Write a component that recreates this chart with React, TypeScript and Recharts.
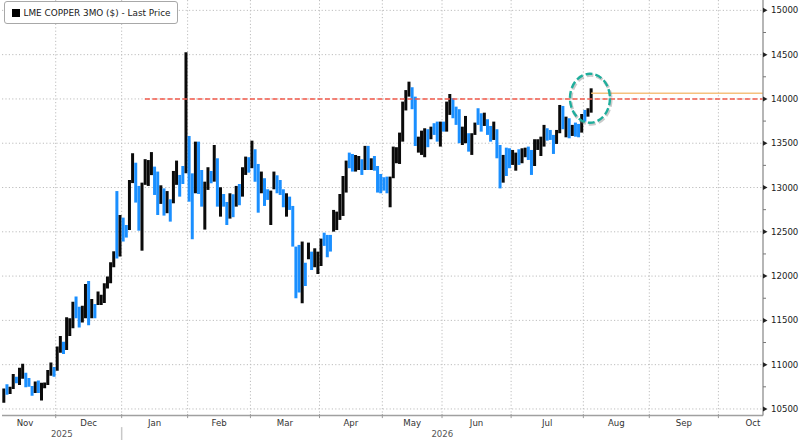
import React from 'react';
import {
  ComposedChart,
  Bar,
  Cell,
  XAxis,
  YAxis,
  CartesianGrid,
  ReferenceLine,
  ReferenceDot,
  Legend,
} from 'recharts';

// ---- data ----
const highs = [
  10730, 10780, 10750, 10895, 10865, 10965, 11010, 10910, 10850, 10760,
  10810, 10820, 10795, 10800, 10940, 11025, 10975, 11205, 11325, 11260,
  11535, 11525, 11710, 11770, 11655, 11665, 11910, 11945, 11740, 11685,
  11825, 11790, 11920, 11995, 12155, 12280, 12960, 12690, 12660, 12577,
  13085, 13387, 13280, 13018, 13055, 13320, 13310, 13400, 13236, 13180,
  13025, 12990, 12960, 12867, 13187, 13304, 13142, 13243, 14527, 13582,
  13160, 13518, 13518, 13198, 13066, 13229, 13187, 13480, 13330, 13003,
  12927, 12837, 12935, 12924, 13018, 13040, 13229, 13349, 13342, 13529,
  13432, 13266, 13180, 13105, 12980, 12965, 13180, 13138, 13085, 12980,
  12935, 12897, 12792, 12333, 12352, 12390, 12152, 12378, 12276, 12314,
  12276, 12423, 12490, 12465, 12465, 12747, 12728, 12927, 13130, 13304,
  13394, 13379, 13367, 13356, 13319, 13470, 13470, 13330, 13356, 13243,
  13153, 13116, 13123, 13123, 13462, 13455, 13620, 13970, 14100, 14195,
  14132, 14026, 13574, 13642, 13669, 13658, 13687, 13726, 13744, 13744,
  13744, 13970, 14056, 14008, 13913, 13884, 13687, 13808, 13613, 13613,
  13733, 13895, 13838, 13845, 13771, 13695, 13744, 13658, 13480, 13368,
  13450, 13443, 13424, 13394, 13432, 13443, 13450, 13462, 13424, 13545,
  13545, 13574, 13707, 13669, 13650, 13594, 13650, 13932, 13921, 13800,
  13782, 13707, 13733, 13718, 13830, 13876, 13895, 14120,
];
const lows = [
  10570, 10660, 10670, 10725, 10790, 10770, 10840, 10745, 10750, 10650,
  10680, 10680, 10595, 10735, 10770, 10875, 10865, 10930, 11135, 11120,
  11165, 11325, 11410, 11525, 11420, 11475, 11525, 11445, 11525, 11525,
  11675, 11675, 11695, 11860, 11920, 12100, 12200, 12220, 12390, 12435,
  12520, 13050, 12830, 12513, 12287, 13030, 13018, 13140, 12916, 12690,
  12815, 12683, 12710, 12615, 12822, 13030, 12897, 13040, 13161, 12840,
  12416, 12935, 12927, 12784, 12525, 12973, 13048, 13066, 12784, 12671,
  12784, 12577, 12649, 12665, 12784, 12800, 12897, 13142, 13168, 13218,
  13066, 12716, 12935, 12792, 12860, 12577, 12980, 12935, 12916, 12777,
  12671, 12747, 12333, 11750, 11814, 11694, 11888, 12190, 12070, 12100,
  12024, 12115, 12341, 12213, 12277, 12502, 12520, 12634, 12679, 12943,
  13218, 13180, 13180, 13198, 13142, 13198, 13198, 13198, 13190, 12943,
  12935, 12965, 12935, 12777, 13105, 13274, 13266, 13518, 13870, 14026,
  13884, 13469, 13394, 13368, 13342, 13455, 13545, 13594, 13518, 13462,
  13631, 13631, 13820, 13782, 13707, 13500, 13480, 13500, 13405, 13368,
  13594, 13707, 13631, 13695, 13594, 13518, 13537, 13330, 12990, 13055,
  13130, 13218, 13255, 13190, 13255, 13274, 13342, 13311, 13142, 13243,
  13424, 13356, 13462, 13529, 13537, 13379, 13492, 13613, 13658, 13567,
  13556, 13582, 13574, 13567, 13620, 13744, 13800, 13845,
];
// 1 = up day (black), 0 = down day (blue)
const upDays = [
  1, 0, 1, 1, 0, 1, 1, 0, 0, 0, 1, 0, 1, 1, 1, 1, 0, 1, 1, 0,
  1, 1, 1, 0, 0, 1, 1, 0, 1, 0, 1, 1, 1, 1, 1, 1, 0, 1, 0, 0,
  1, 1, 0, 0, 1, 1, 1, 1, 0, 0, 1, 0, 1, 0, 1, 1, 0, 0, 1, 0,
  0, 1, 0, 0, 1, 1, 0, 1, 0, 1, 0, 0, 1, 0, 1, 0, 1, 1, 0, 1,
  0, 0, 1, 0, 0, 1, 1, 0, 0, 0, 1, 0, 0, 0, 0, 1, 0, 1, 0, 1,
  1, 1, 0, 0, 0, 1, 1, 1, 1, 1, 0, 0, 1, 1, 0, 1, 0, 1, 0, 0,
  0, 0, 0, 1, 1, 1, 1, 1, 1, 1, 0, 0, 1, 1, 1, 0, 1, 0, 0, 1,
  0, 1, 1, 0, 0, 0, 1, 1, 0, 1, 1, 0, 0, 1, 0, 0, 1, 0, 0, 1,
  0, 0, 1, 1, 0, 1, 1, 0, 0, 1, 1, 1, 1, 0, 0, 0, 1, 1, 0, 1,
  0, 1, 0, 0, 1, 0, 1, 1,
];

// trading-day index positions on the time axis
const monthBoundaries = [16.5, 37.5, 58.5, 78.5, 100.5, 120.5, 139.5, 161.5, 184.5, 205.5, 227.5];
const monthLabelPositions = [6.75, 27, 48, 68.5, 89.5, 110.5, 130, 150.5, 173, 195, 216.5, 238.5];
const monthLabels = ['Nov', 'Dec', 'Jan', 'Feb', 'Mar', 'Apr', 'May', 'Jun', 'Jul', 'Aug', 'Sep', 'Oct'];
const yearPositions = [18.45, 139.6];
const yearLabels = ['2025', '2026'];
const yearSeparator = 37.5;

const priceTicks = [
  10500, 10750, 11000, 11250, 11500, 11750, 12000, 12250, 12500, 12750,
  13000, 13250, 13500, 13750, 14000, 14250, 14500, 14750, 15000,
];
const majorPriceTicks = [10500, 11000, 11500, 12000, 12500, 13000, 13500, 14000, 14500, 15000];

const resistanceLevel = 14000;
const resistanceStart = 44.9;
const lastPrice = 14064;
const highlightCenter = { x: 186.6, y: 14008 };
const xDomain = [-0.6, 241.7];
const yDomain = [10425, 15117];

const seriesName = 'LME COPPER 3MO ($) - Last Price';

const chartData = highs.map((h, i) => ({ i, range: [lows[i], h], up: upDays[i] }));

const allXTicks = [...monthBoundaries, ...monthLabelPositions, ...yearPositions]
  .filter((v, k, arr) => arr.indexOf(v) === k)
  .sort((a, b) => a - b);

const FONT = 'DejaVu Sans, Verdana, sans-serif';

const TimeTick = (props: any) => {
  const { x, y, payload } = props;
  const v = payload.value;
  const parts: React.ReactNode[] = [];
  if (monthBoundaries.indexOf(v) >= 0) {
    parts.push(<line key="b" x1={x} x2={x} y1={y - 1.5} y2={y + 2.5} stroke="#9a9a9a" strokeWidth={1} />);
  }
  if (v === yearSeparator) {
    parts.push(<line key="s" x1={x} x2={x} y1={y + 11.5} y2={y + 24.4} stroke="#c8c8c8" strokeWidth={1.5} />);
  }
  const mi = monthLabelPositions.indexOf(v);
  if (mi >= 0) {
    parts.push(
      <text key="m" x={x} y={y + 10} textAnchor="middle" fontFamily={FONT} fontSize={8.6} fill="#333">
        {monthLabels[mi]}
      </text>
    );
  }
  const yi = yearPositions.indexOf(v);
  if (yi >= 0) {
    parts.push(
      <text key="y" x={x} y={y + 21.7} textAnchor="middle" fontFamily={FONT} fontSize={8.6} fill="#555">
        {yearLabels[yi]}
      </text>
    );
  }
  return <g>{parts}</g>;
};

const PriceTick = (props: any) => {
  const { x, y, payload } = props;
  const v = payload.value;
  if (majorPriceTicks.indexOf(v) >= 0) {
    return (
      <g>
        <path d={`M${x},${y - 2.5} L${x + 4.5},${y} L${x},${y + 2.5} Z`} fill="#222" />
        <text x={x + 8} y={y} dy="0.36em" textAnchor="start" fontFamily={FONT} fontSize={8.6} fill="#1a1a1a">
          {v}
        </text>
      </g>
    );
  }
  return <line x1={x} x2={x + 3} y1={y} y2={y} stroke="#777" strokeWidth={1} />;
};

const LegendBox = (props: any) => {
  const item = (props.payload || []).find((p: any) => p.dataKey === 'range');
  return (
    <div
      style={{
        display: 'flex',
        alignItems: 'center',
        width: 174,
        height: 23,
        boxSizing: 'border-box',
        paddingLeft: 7,
        border: '1px solid #a8a8a8',
        borderRadius: 3,
        background: '#fff',
        fontFamily: FONT,
        fontSize: 8.9,
        color: '#1a1a1a',
        whiteSpace: 'nowrap',
      }}
    >
      <span style={{ display: 'inline-block', width: 8, height: 8, background: '#000', marginRight: 3.5 }} />
      <span>{item ? item.value : seriesName}</span>
    </div>
  );
};

const HighlightEllipse = (props: any) => {
  const { cx, cy } = props;
  return (
    <g>
      <ellipse cx={cx + 1} cy={cy + 1.5} rx={20} ry={24.5} fill="none" stroke="#8a8a8a" strokeOpacity={0.45}
        strokeWidth={3.2} strokeDasharray="7 3" />
      <ellipse cx={cx} cy={cy} rx={20} ry={24.5} fill="none" stroke="#1fae9c" strokeWidth={2.4} strokeDasharray="7 3" />
    </g>
  );
};

export default function App() {
  return (
    <div style={{ width: 800, height: 440, background: '#fff', position: 'relative' }}>
      <style>{'body{margin:0;background:#fff;}'}</style>
      <ComposedChart
        width={800}
        height={440}
        data={chartData}
        margin={{ top: 0, right: 0, bottom: 0, left: 2 }}
        barGap={0}
      >
        <CartesianGrid
          stroke="#bdbdbd"
          strokeDasharray="1.2 2.2"
          horizontalValues={majorPriceTicks}
          verticalValues={monthBoundaries}
        />
        <XAxis
          dataKey="i"
          type="number"
          domain={xDomain}
          allowDataOverflow
          ticks={allXTicks}
          interval={0}
          tick={<TimeTick />}
          tickLine={false}
          tickSize={0}
          tickMargin={0}
          height={24.4}
          axisLine={{ stroke: '#a0a0a0', strokeWidth: 1.5 }}
        />
        <YAxis
          orientation="right"
          type="number"
          domain={yDomain}
          allowDataOverflow
          ticks={priceTicks}
          interval={0}
          tick={<PriceTick />}
          tickLine={false}
          tickSize={0}
          tickMargin={0}
          width={37}
          axisLine={{ stroke: '#8f8f8f', strokeWidth: 1.3 }}
        />
        <Legend
          layout="horizontal"
          align="center"
          verticalAlign="middle"
          content={<LegendBox />}
          wrapperStyle={{ left: 4, top: 1, width: 180 }}
        />
        <ReferenceLine
          segment={[{ x: resistanceStart, y: resistanceLevel }, { x: xDomain[1], y: resistanceLevel }]}
          stroke="#f25a4b"
          strokeWidth={1.5}
          strokeDasharray="5 2.5"
        />
        <Bar
          dataKey="range"
          name={seriesName}
          barSize={3}
          isAnimationActive={false}
          fill="#0a0a0a"
        >
          {chartData.map((d) => (
            <Cell key={d.i} fill={d.up ? '#0a0a0a' : '#1a8fff'} />
          ))}
        </Bar>
        <ReferenceLine
          segment={[{ x: chartData.length - 1, y: lastPrice }, { x: xDomain[1], y: lastPrice }]}
          stroke="#f5c27e"
          strokeWidth={1.6}
        />
        <ReferenceDot x={highlightCenter.x} y={highlightCenter.y} r={20} shape={HighlightEllipse} />
      </ComposedChart>
    </div>
  );
}
